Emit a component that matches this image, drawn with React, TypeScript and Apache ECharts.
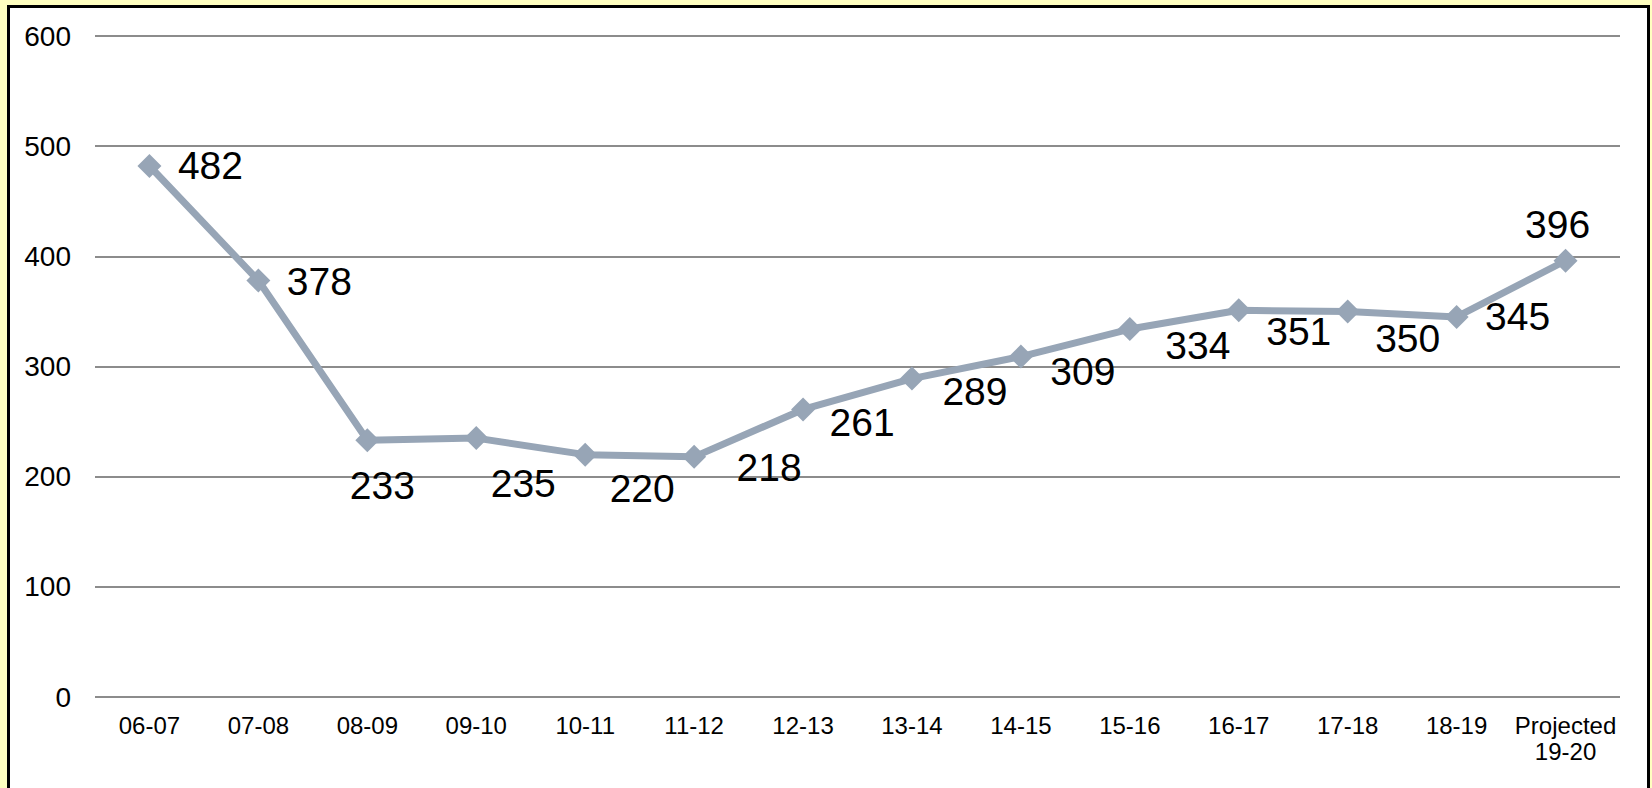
import React, { useEffect, useRef } from "react";
import * as echarts from "echarts";

const categories = ["06-07", "07-08", "08-09", "09-10", "10-11", "11-12", "12-13", "13-14", "14-15", "15-16", "16-17", "17-18", "18-19", "Projected\n19-20"];
const values = [482, 378, 233, 235, 220, 218, 261, 289, 309, 334, 351, 350, 345, 396];
const yTicks = [0, 100, 200, 300, 400, 500, 600];
const labelOffsets: [number, number][] = [
  [61, 0], [61, 1], [15, 45], [47, 45], [57, 34], [75, 11], [59, 13],
  [63, 13], [62, 15], [68, 16], [60, 21], [60, 27], [61, 0], [-8, -36],
];

export default function App() {
  const ref = useRef<HTMLDivElement>(null);
  useEffect(() => {
    if (!ref.current) return;
    const chart = echarts.init(ref.current, null, { renderer: "svg" });
    chart.setOption({
      animation: false,
      grid: { left: 87, right: 8, top: 31, bottom: 91, containLabel: false },
      xAxis: {
        type: "category",
        data: categories,
        boundaryGap: true,
        axisLine: { show: false },
        axisTick: { show: false },
        axisLabel: { color: "#000", fontSize: 24, fontFamily: "Liberation Sans", margin: 15, lineHeight: 26, interval: 0 },
      },
      yAxis: {
        type: "value",
        min: yTicks[0],
        max: yTicks[yTicks.length - 1],
        interval: 100,
        axisLine: { show: false },
        axisTick: { show: false },
        axisLabel: { color: "#000", fontSize: 28, fontFamily: "Liberation Sans", margin: 24 },
        splitLine: { lineStyle: { color: "#8c8c8c", width: 2 } },
      },
      series: [
        {
          type: "line",
          data: values.map((v, i) => ({
            value: v,
            label: { offset: labelOffsets[i] },
          })),
          symbol: "diamond",
          symbolSize: 24,
          lineStyle: { color: "#97a5b6", width: 7 },
          itemStyle: { color: "#97a5b6" },
          label: {
            show: true,
            position: "inside",
            color: "#000",
            fontSize: 39,
            fontFamily: "Liberation Sans",
          },
        },
      ],
    });
    return () => chart.dispose();
  }, []);
  return (
    <div style={{ position: "fixed", left: 0, top: 0, width: 1652, height: 788, background: "#ffffc0", overflow: "hidden" }}>
      <div style={{ position: "absolute", left: 7, top: 5, width: 1643, height: 800, background: "#fff", border: "3px solid #000", boxSizing: "border-box" }} />
      <div ref={ref} style={{ position: "absolute", left: 8, top: 5, width: 1620, height: 783 }} />
    </div>
  );
}
